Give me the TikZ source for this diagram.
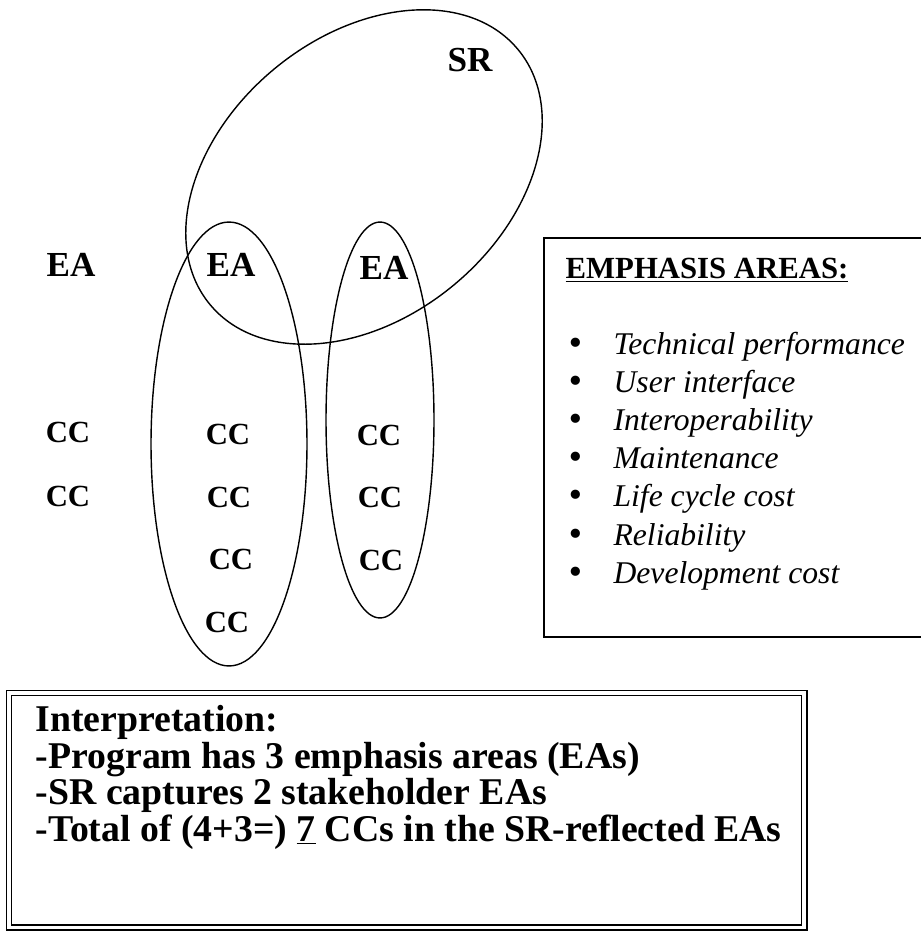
\documentclass[tikz,border=0pt]{standalone}
\usepackage{fontspec}
\setmainfont{Liberation Serif}
\newfontfamily\bulletfont{DejaVu Sans}
\usetikzlibrary{shapes.geometric, positioning}
\newcommand{\emitem}[1]{\makebox[26.7pt][l]{{\bulletfont\upshape •}}#1}

\begin{document}
\begin{tikzpicture}[
    x=0.02cm, y=-0.02cm,
    line width=0.8pt,
    area/.style={ellipse, draw, inner sep=0pt},
    ealabel/.style={font=\fontsize{20}{24}\selectfont\bfseries, inner sep=0pt},
    cclabel/.style={font=\fontsize{17.5}{20}\selectfont\bfseries, inner sep=0pt},
    panel/.style={rectangle, draw, inner sep=0pt, outer sep=0pt, anchor=north west},
]
    \useasboundingbox (0,0) rectangle (920,933);

    % SR and the emphasis areas it touches
    \node[area, minimum width=8cm, minimum height=5.62cm, rotate=39.6] (sr) at (364,177) {};
    \node[area, minimum width=3.12cm, minimum height=8.88cm] (eamid) at (229,444) {};
    \node[area, minimum width=2.16cm, minimum height=7.92cm] (earight) at (380,420) {};

    \node[ealabel] (srlabel) at (470,60) {SR};
    \node[ealabel] (ea1) at (71,264.5) {EA};
    \node[ealabel] (ea2) at (231,264.5) {EA};
    \node[ealabel] (ea3) at (384,267.5) {EA};

    % CCs per EA
    \node[cclabel] (cc11) at (68,432.5) {CC};
    \node[cclabel] (cc12) at (68,496) {CC};
    \node[cclabel] (cc21) at (228,434.5) {CC};
    \node[cclabel] (cc22) at (229,497.5) {CC};
    \node[cclabel] (cc23) at (231,559) {CC};
    \node[cclabel] (cc24) at (227,622.5) {CC};
    \node[cclabel] (cc31) at (379,435.5) {CC};
    \node[cclabel] (cc32) at (380,497.5) {CC};
    \node[cclabel] (cc33) at (381,560) {CC};

    % Emphasis areas list
    \node[panel, minimum width=7.92cm, minimum height=7.98cm] (ebox) at (544,238) {};
    \node[font=\fontsize{17.5}{21}\selectfont\bfseries, inner sep=0pt, anchor=base west] (ehead) at (565,278) {\underline{EMPHASIS AREAS:}};
    \node[font=\fontsize{18}{21.7}\selectfont\itshape, align=left, inner sep=0pt, anchor=north west] (elist) at (566,331.5) {
        \emitem{Technical performance} \\
        \emitem{User interface} \\
        \emitem{Interoperability} \\
        \emitem{Maintenance} \\
        \emitem{Life cycle cost} \\
        \emitem{Reliability} \\
        \emitem{Development cost}
    };

    % Interpretation
    \node[panel, double, double distance=2.2pt, line width=0.85pt, minimum width=15.91cm, minimum height=4.69cm] (ibox) at (9,693) {};
    \node[font=\fontsize{21.5}{20.7}\selectfont\bfseries, align=left, inner sep=0pt, anchor=north west] (itext) at (35,705) {
        Interpretation: \\
        -Program has 3 emphasis areas (EAs) \\
        -SR captures 2 stakeholder EAs \\
        -Total of (4+3=) \underline{7} CCs in the SR-reflected EAs
    };
\end{tikzpicture}
\end{document}
